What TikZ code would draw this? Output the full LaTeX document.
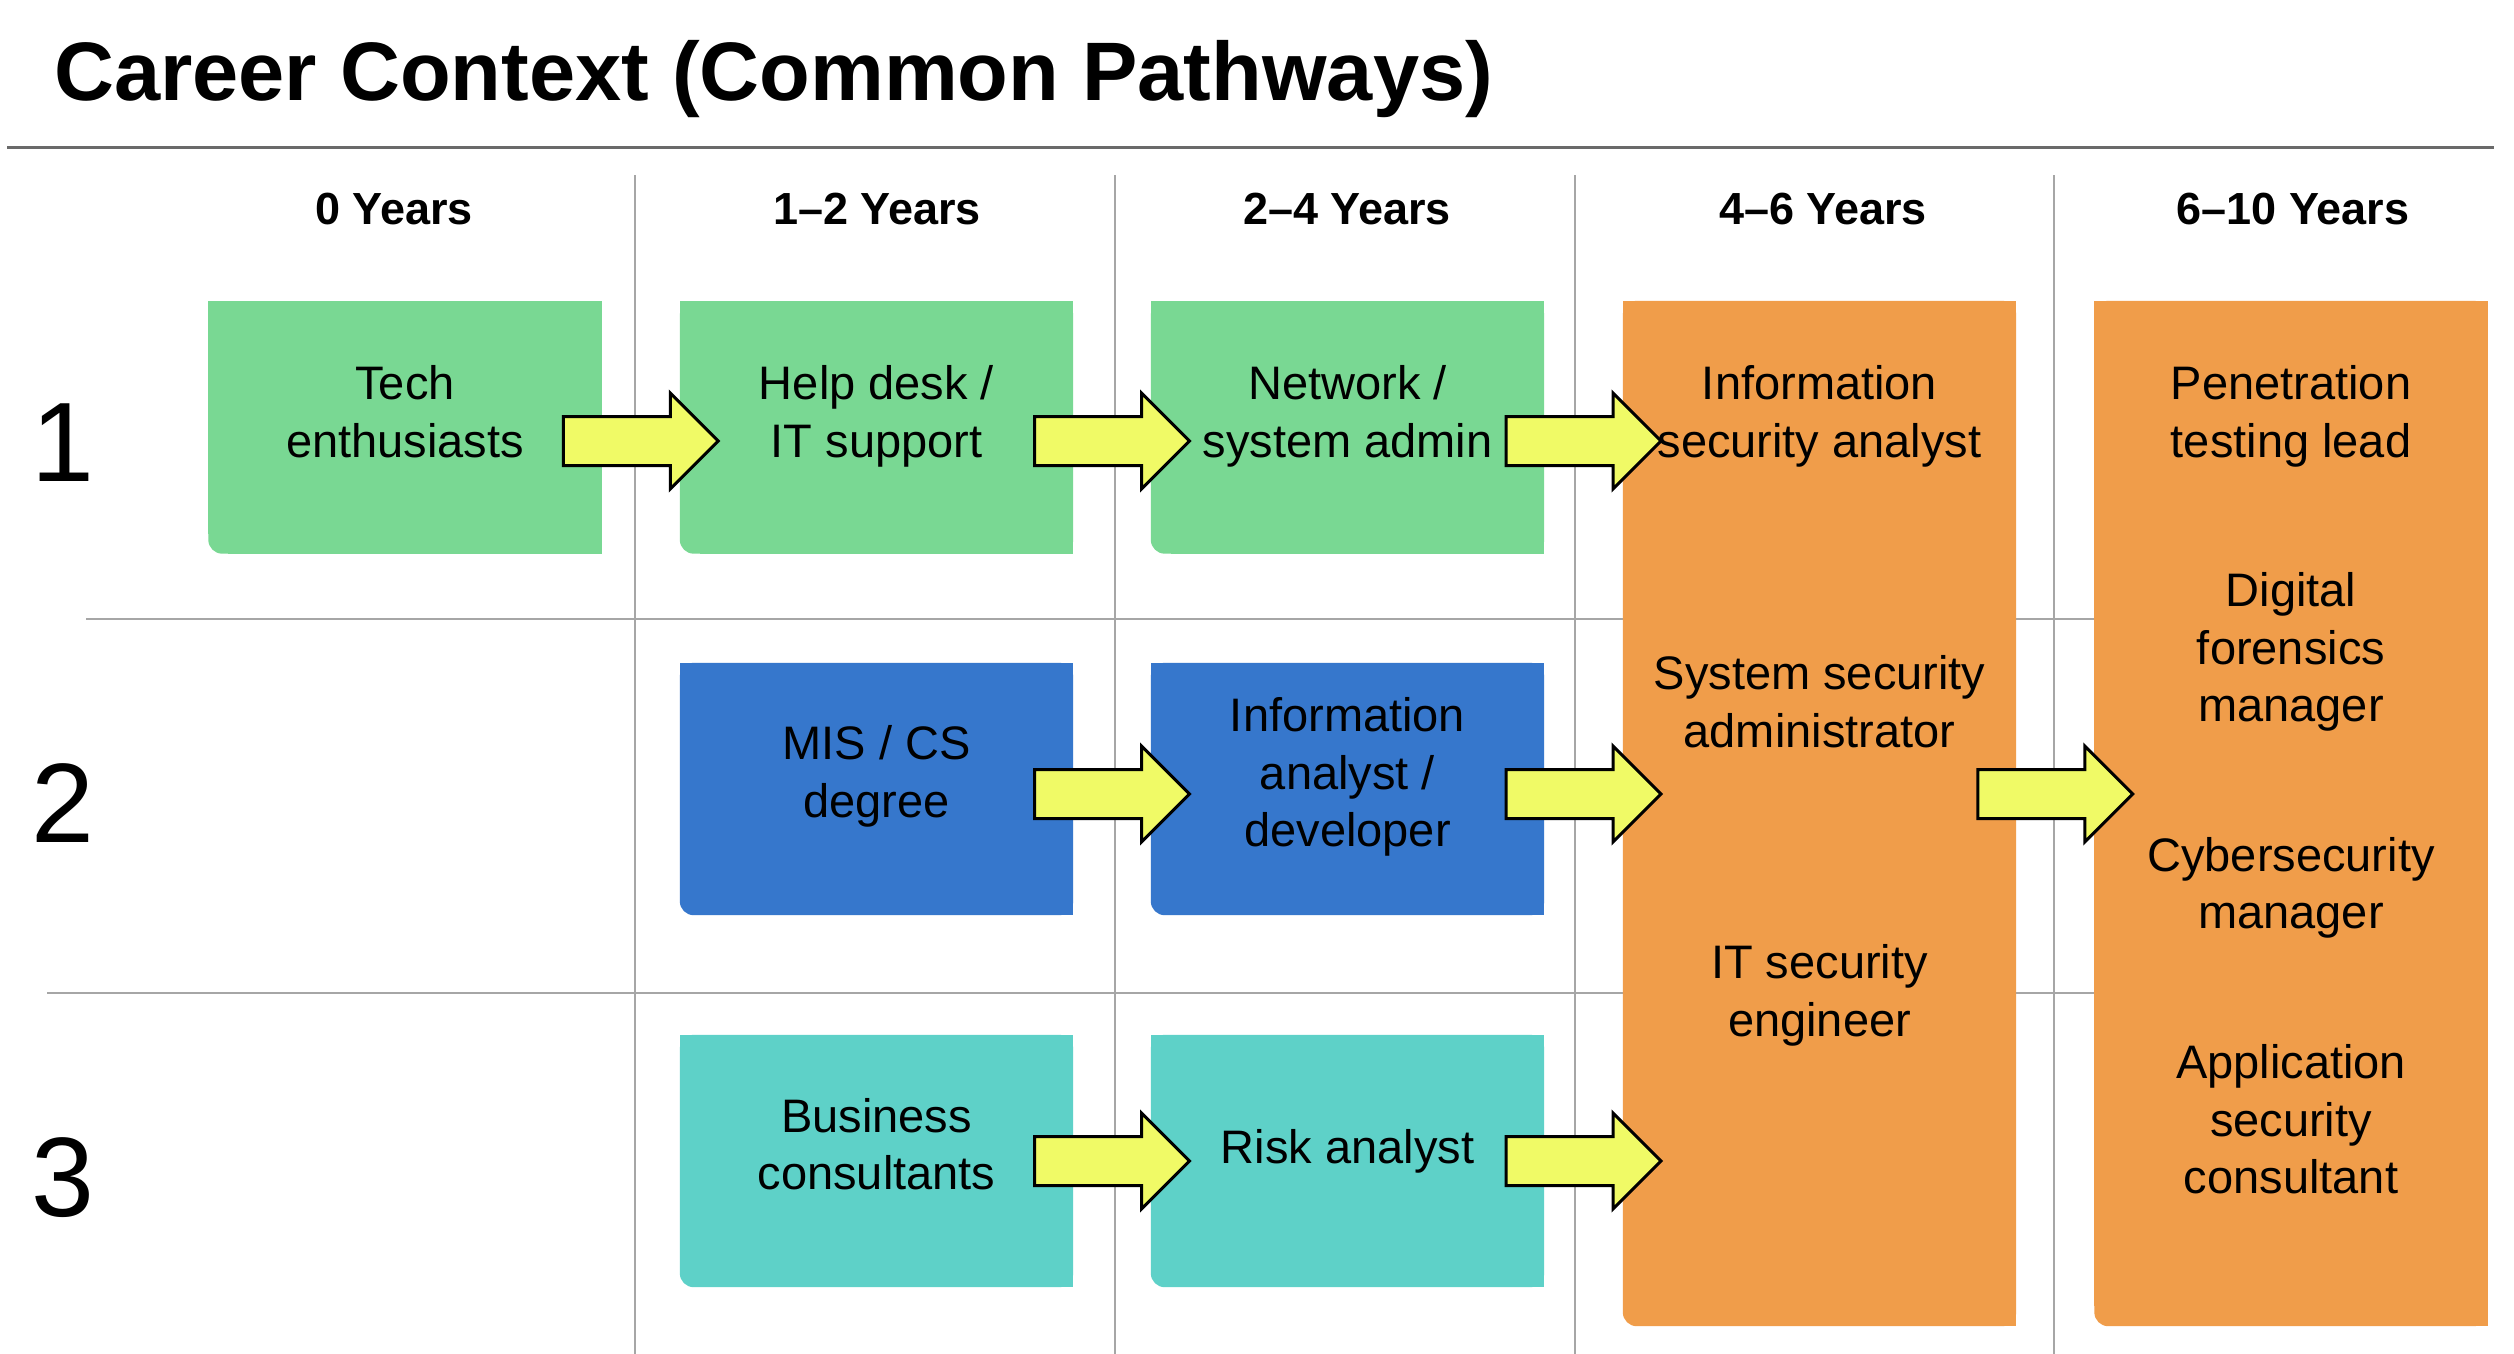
\documentclass[tikz,border=0pt]{standalone}
\usepackage{fontspec}
\setmainfont{Liberation Sans}
\usetikzlibrary{calc}
\definecolor{cgreen}{HTML}{79D893}
\definecolor{cblue}{HTML}{3677CC}
\definecolor{cteal}{HTML}{5ED1C8}
\definecolor{corange}{HTML}{F09D4A}
\definecolor{cyellow}{HTML}{F0FA66}
\definecolor{gridgray}{HTML}{A6A6A6}
\definecolor{titlegray}{HTML}{6A6A6A}
\newcommand\boxfill[2]{%
  \fill[#2, rounded corners=14pt] (#1.north west) rectangle (#1.south east);
  \fill[#2] (#1.north west) rectangle ([yshift=20pt]#1.south east);
  \fill[#2] ([xshift=20pt]#1.south west) rectangle (#1.north east);
}
\newcommand\barrow[3]{%
  \path ($(#1.east)!.5!(#2.west)$) coordinate (mx);
  \path (0,#3) coordinate (my);
  \path (mx |- my) coordinate (ac);
  \draw[arr] ([shift={(-77.5,-24.5)}]ac) -- ++(107,0) -- ++(0,-23.5) -- ++(48,48)
     -- ++(-48,48) -- ++(0,-23.5) -- ++(-107,0) -- cycle;
}
\begin{document}
\begin{tikzpicture}[x=1pt,y=-1pt,
  boxn/.style={rectangle, inner sep=0pt, minimum width=393pt, minimum height=252pt},
  tallbox/.style={rectangle, inner sep=0pt, minimum width=393pt, minimum height=1025pt},
  btxt/.style={align=center, inner sep=0pt, font=\fontsize{47}{57.5}\selectfont},
  hdr/.style={anchor=base, inner sep=0pt, font=\bfseries\fontsize{45}{54}\selectfont},
  rownum/.style={anchor=base, inner sep=0pt, font=\fontsize{113}{130}\selectfont},
  arr/.style={fill=cyellow, draw=black, line width=3pt, line join=miter},
  gridline/.style={draw=gridgray, line width=2.5pt}]
\fill[white] (0,0) rectangle (2514,1354);
\useasboundingbox (0,0) rectangle (2514,1354);

% title
\node[anchor=base west, inner sep=0pt, font=\bfseries\fontsize{83}{96}\selectfont] (title) at (54,100) {Career Context (Common Pathways)};
\draw[titlegray, line width=3pt] (7,147) -- (2494,147);

% grid
\foreach \x in {635,1115,1575,2054} \draw[gridline] (\x,175) -- (\x,1354);
\draw[gridline] (86,619) -- (2095,619);
\draw[gridline] (47,993) -- (2095,993);

% headers
\node[hdr] (h0) at (394,224) {0 Years};
\node[hdr] (h1) at (877,224) {1–2 Years};
\node[hdr] (h2) at (1347,224) {2–4 Years};
\node[hdr] (h3) at (1823,224) {4–6 Years};
\node[hdr] (h4) at (2293,224) {6–10 Years};

% row numbers
\node[rownum] (r1) at (63,481) {1};
\node[rownum] (r2) at (63,842) {2};
\node[rownum] (r3) at (63,1216) {3};

% boxes
\node[boxn] (b1) at (405,427.5) {};
\node[boxn] (b2) at (876.5,427.5) {};
\node[boxn] (b3) at (1347.5,427.5) {};
\node[boxn] (c2) at (876.5,789) {};
\node[boxn] (c3) at (1347.5,789) {};
\node[boxn] (d2) at (876.5,1161) {};
\node[boxn] (d3) at (1347.5,1161) {};
\node[tallbox] (o1) at (1819.5,813.5) {};
\node[tallbox] (o2) at (2291,813.5) {};
\boxfill{b1}{cgreen}
\boxfill{b2}{cgreen}
\boxfill{b3}{cgreen}
\boxfill{c2}{cblue}
\boxfill{c3}{cblue}
\boxfill{d2}{cteal}
\boxfill{d3}{cteal}
\boxfill{o1}{corange}
\boxfill{o2}{corange}

% arrows
\barrow{b1}{b2}{441}
\barrow{b2}{b3}{441}
\barrow{b3}{o1}{441}
\barrow{c2}{c3}{794}
\barrow{c3}{o1}{794}
\barrow{o1}{o2}{794}
\barrow{d2}{d3}{1161}
\barrow{d3}{o1}{1161}

% texts
\node[btxt] (tb1) at (405,417) {\strut Tech\\\strut enthusiasts};
\node[btxt] (tb2) at (876.5,417) {\strut Help desk /\\\strut IT support};
\node[btxt] (tb3) at (1347.5,417) {\strut Network /\\\strut system admin};
\node[btxt] (tc2) at (876.5,777) {\strut MIS / CS\\\strut degree};
\node[btxt] (tc3) at (1347.5,777.5) {\strut Information\\\strut analyst /\\\strut developer};
\node[btxt] (td2) at (876.5,1149.5) {\strut Business\\\strut consultants};
\node[btxt] (td3) at (1347.5,1151.5) {\strut Risk analyst};
\node[btxt] (to1a) at (1819.5,417) {\strut Information\\\strut security analyst};
\node[btxt] (to1b) at (1819.5,707) {\strut System security\\\strut administrator};
\node[btxt] (to1c) at (1819.5,996) {\strut IT security\\\strut engineer};
\node[btxt] (to2a) at (2291,417) {\strut Penetration\\\strut testing lead};
\node[btxt] (to2b) at (2291,652.5) {\strut Digital\\\strut forensics\\\strut manager};
\node[btxt] (to2c) at (2291,888.5) {\strut Cybersecurity\\\strut manager};
\node[btxt] (to2d) at (2291,1124.5) {\strut Application\\\strut security\\\strut consultant};
\end{tikzpicture}
\end{document}
